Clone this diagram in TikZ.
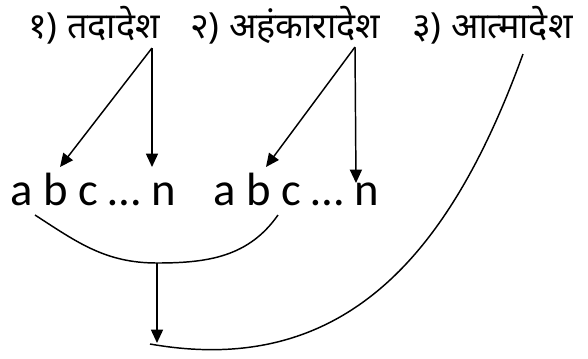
\documentclass[tikz,border=0pt]{standalone}
\usepackage{fontspec}
\setmainfont{Carlito}
\newfontfamily\deva[Script=Devanagari]{Noto Sans}
\usetikzlibrary{arrows.meta}

\tikzset{
  lbl/.style={inner sep=0pt, anchor=base west, font=\deva\fontsize{27}{30}\selectfont},
  grp/.style={inner sep=0pt, anchor=base west, font=\fontsize{35}{40}\selectfont},
  arr/.style={line width=1.1pt, -{Triangle[length=10pt,width=9pt]}},
  lnk/.style={line width=1.1pt}
}

\begin{document}
\begin{tikzpicture}[x=0.75pt, y=-0.75pt]
  \useasboundingbox (0,0) rectangle (588,358);

  % Top labels
  \node[lbl] (t1) at (28,38) {१) तदादेश};
  \node[lbl] (t2) at (190,38) {२) अहंकारादेश};
  \node[lbl] (t3) at (412,38) {३) आत्मादेश};

  % Letter groups
  \node[grp] (g1) at (10,205) {a b c … n};
  \node[grp] (g2) at (213,205) {a b c … n};

  \coordinate (s1) at (152,48);
  \coordinate (s2) at (355,47);
  \coordinate (s3) at (523,54);
  \coordinate (e1a) at (60,167);
  \coordinate (e1b) at (152,167);
  \coordinate (e2a) at (266,167);
  \coordinate (e2b) at (356,183);

  \draw[arr] (s1) -- (e1a);
  \draw[arr] (s1) -- (e1b);
  \draw[arr] (s2) -- (e2a);
  \draw[arr] (s2) -- (e2b);

  % Joining curves
  \coordinate (l1) at (35,215);
  \coordinate (l2) at (278,215);
  \coordinate (m) at (157,263);
  \coordinate (b) at (157,343);
  \coordinate (f) at (150,344);
  \draw[lnk] (l1) to[out=-33, in=180] (m) to[out=0, in=-125] (l2);
  \draw[arr] (m) -- (b);
  \draw[lnk] (f) to[out=-10, in=-110, looseness=1.1] (s3);
\end{tikzpicture}
\end{document}
